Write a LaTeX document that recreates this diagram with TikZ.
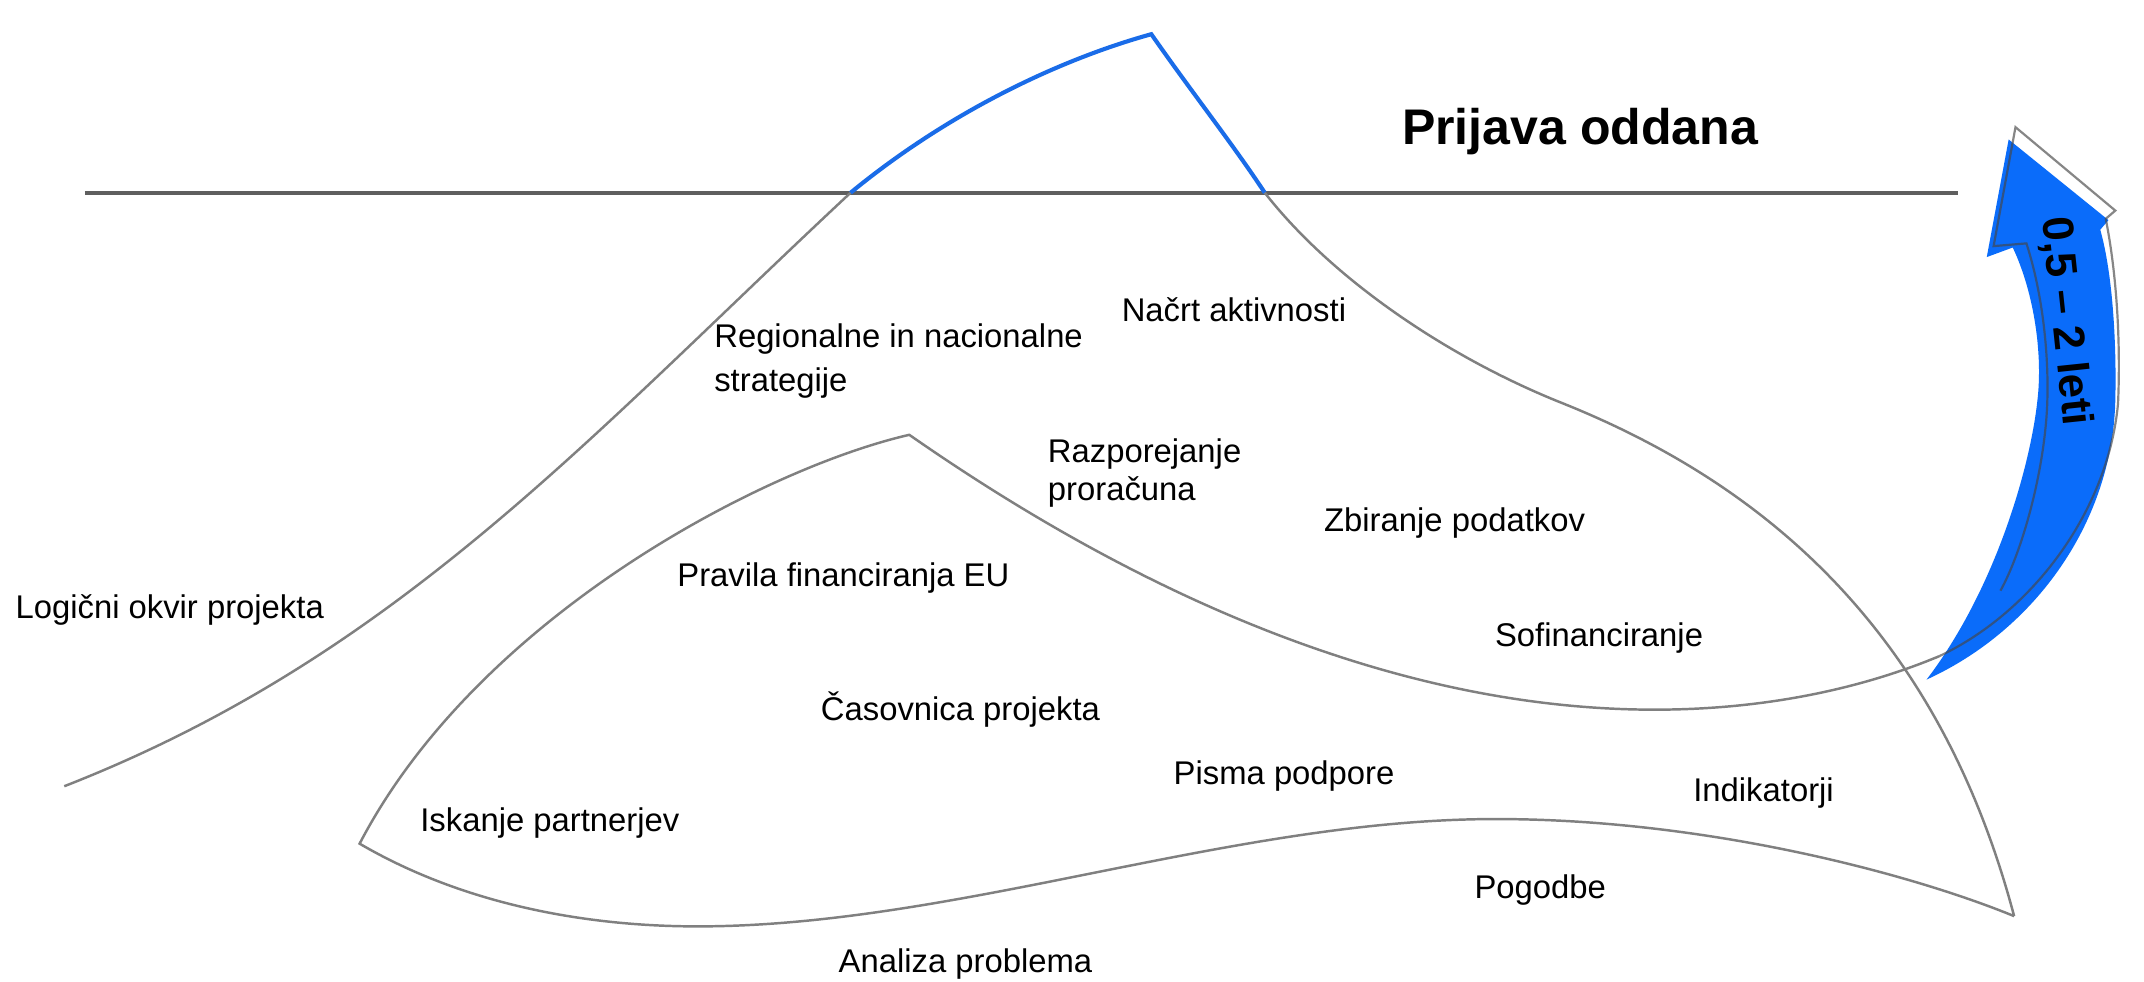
\documentclass[tikz,border=0pt]{standalone}
\usepackage{fontspec}
\setmainfont{Liberation Sans}
\definecolor{linegray}{RGB}{128,128,128}
\definecolor{hgray}{RGB}{95,95,95}
\definecolor{peakblue}{RGB}{26,108,232}
\definecolor{arrowblue}{RGB}{10,108,250}
\definecolor{outlinegray}{RGB}{70,70,70}
\tikzset{
  curve/.style={draw=linegray, line width=0.9pt},
  lbl/.style={anchor=base west, inner sep=0pt, font=\fontsize{12}{14}\selectfont, text=black},
}
\begin{document}
\begin{tikzpicture}[x=0.5pt,y=-0.5pt]
\path[use as bounding box, fill=white] (0,0) rectangle (1568,718);
% key points
\coordinate (wl) at (62,141);
\coordinate (wr) at (1432,141);
\coordinate (pl) at (622,141);
\coordinate (pt) at (842,25);
\coordinate (pr) at (925,141);
\coordinate (ol) at (47,575);
\coordinate (tip) at (1473,670);
\coordinate (ip) at (665,318);
\coordinate (il) at (263,617);
\coordinate (bmin) at (510,677.5);
\coordinate (bmax) at (1094,599);
\coordinate (tail) at (1418,480);
\coordinate (atail) at (1409,497);
% water line
\draw[hgray, line width=1.5pt] (wl) -- (wr);
% peak above water
\draw[peakblue, line width=1.5pt, line join=miter] (pl) .. controls (690,85) and (770,45) .. (pt) .. controls (872,68) and (902,106) .. (pr);
% outer contour below water
\draw[curve] (pl) .. controls (430,320) and (290,480) .. (ol);
\draw[curve] (pr) .. controls (975,205) and (1060,262) .. (1143,295) .. controls (1300,358) and (1420,470) .. (tip);
% inner contour
\draw[curve, line join=miter] (tail) .. controls (1370,500) and (1300,519) .. (1210,519)
  .. controls (990,519) and (790,405) .. (ip)
  .. controls (560,342) and (350,450) .. (il)
  .. controls (340,662) and (430,677.5) .. (bmin)
  .. controls (700,677.5) and (900,599) .. (bmax)
  .. controls (1250,599) and (1400,640) .. (tip);
% curved arrow
\fill[arrowblue] (atail) .. controls (1490,460) and (1545,380) .. (1547,293)
  .. controls (1548,250) and (1545,200) .. (1536,168) -- (1542,161) -- (1469,102) -- (1453,188) -- (1472,181)
  .. controls (1488,215) and (1494,260) .. (1490,293)
  .. controls (1485,340) and (1460,430) .. (atail) -- cycle;
\draw[outlinegray, line width=0.8pt, opacity=0.65, line join=miter] (tail) .. controls (1488,447) and (1542,372) .. (1549,295)
  .. controls (1551,250) and (1548,200) .. (1540,160) -- (1547,154) -- (1474,93) -- (1458,180) -- (1482,178)
  .. controls (1494,215) and (1499,262) .. (1497,300)
  .. controls (1494,350) and (1478,405) .. (1463,432);
\node[font=\bfseries\fontsize{16}{18}\selectfont, rotate=-84, inner sep=0pt] (dur) at (1510.5,235) {0,5 – 2 leti};
% title
\node[anchor=base west, inner sep=0pt, font=\bfseries\fontsize{18.3}{20}\selectfont] (title) at (1025,106) {Prijava oddana};
% labels
\node[lbl] (reg1) at (522,254) {Regionalne in nacionalne};
\node[lbl] (reg2) at (522,286) {strategije};
\node[lbl] (nacrt) at (820,235) {Načrt aktivnosti};
\node[lbl] (raz1) at (766,338) {Razporejanje};
\node[lbl] (raz2) at (766,366) {proračuna};
\node[lbl] (zbir) at (968,389) {Zbiranje podatkov};
\node[lbl] (logic) at (11,452) {Logični okvir projekta};
\node[lbl] (pravila) at (495,429) {Pravila financiranja EU};
\node[lbl] (sofin) at (1093,473) {Sofinanciranje};
\node[lbl] (casov) at (600,527) {Časovnica projekta};
\node[lbl] (pisma) at (858,574) {Pisma podpore};
\node[lbl] (iskanje) at (307,608) {Iskanje partnerjev};
\node[lbl] (indik) at (1238,586) {Indikatorji};
\node[lbl] (pogodbe) at (1078,657) {Pogodbe};
\node[lbl] (analiza) at (613,711) {Analiza problema};
\end{tikzpicture}
\end{document}
